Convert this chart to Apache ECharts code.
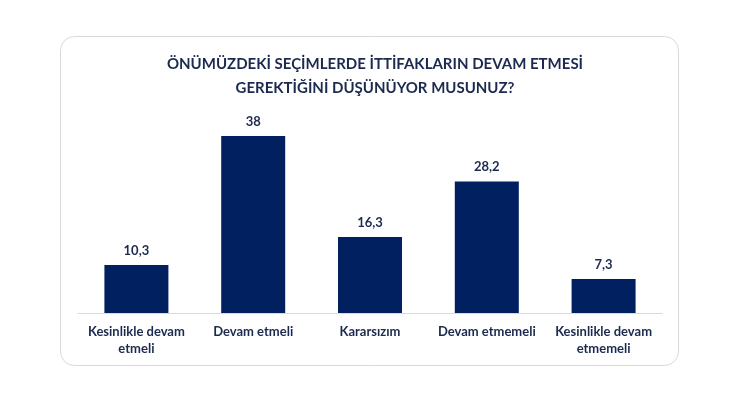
<!DOCTYPE html>
<html><head><meta charset="utf-8">
<script src="https://cdn.jsdelivr.net/npm/echarts@6/dist/echarts.min.js"></script>
<style>html,body{margin:0;padding:0;background:#fff}#c{width:732px;height:403px}</style>
</head><body><div id="c"></div>
<script>
const categories = ["Kesinlikle devam\netmeli", "Devam etmeli", "Kararsızım", "Devam etmemeli", "Kesinlikle devam\netmemeli"];
const values = [10.3, 38, 16.3, 28.2, 7.3];
const titleText = "ÖNÜMÜZDEKİ SEÇİMLERDE İTTİFAKLARIN DEVAM ETMESİ\nGEREKTİĞİNİ DÜŞÜNÜYOR MUSUNUZ?";

const chart = echarts.init(document.getElementById('c'));
const txt = '#1b2a4e';
chart.setOption({
  animation: false,
  textStyle: {fontFamily: 'Lato'},
  graphic: [{
    type: 'rect', shape: {x: 60.5, y: 36.5, width: 618, height: 329, r: 14},
    style: {fill: '#fff', stroke: '#d9d9d9', lineWidth: 1}, z: -10
  }],
  title: {
    text: titleText, left: 370, top: 47, textAlign: 'center',
    textStyle: {fontFamily: 'Lato', fontSize: 15, fontWeight: 'bold', color: txt, lineHeight: 24}
  },
  grid: {left: 78, right: 70, top: 126.6, bottom: 90},
  xAxis: {
    type: 'category', data: categories,
    axisLine: {lineStyle: {color: '#d9d9d9', width: 1}},
    axisTick: {show: false},
    axisLabel: {color: txt, fontSize: 13, fontWeight: 'bold', lineHeight: 17, margin: 10, interval: 0}
  },
  yAxis: {type: 'value', min: 0, max: 40, show: false, splitLine: {show: false}},
  series: [{
    type: 'bar', data: values, barWidth: 64,
    itemStyle: {color: '#002060'},
    label: {show: true, position: 'top', distance: 8, color: txt, fontSize: 13, fontWeight: 'bold',
      formatter: p => String(p.value).replace('.', ',')}
  }]
});
</script></body></html>
